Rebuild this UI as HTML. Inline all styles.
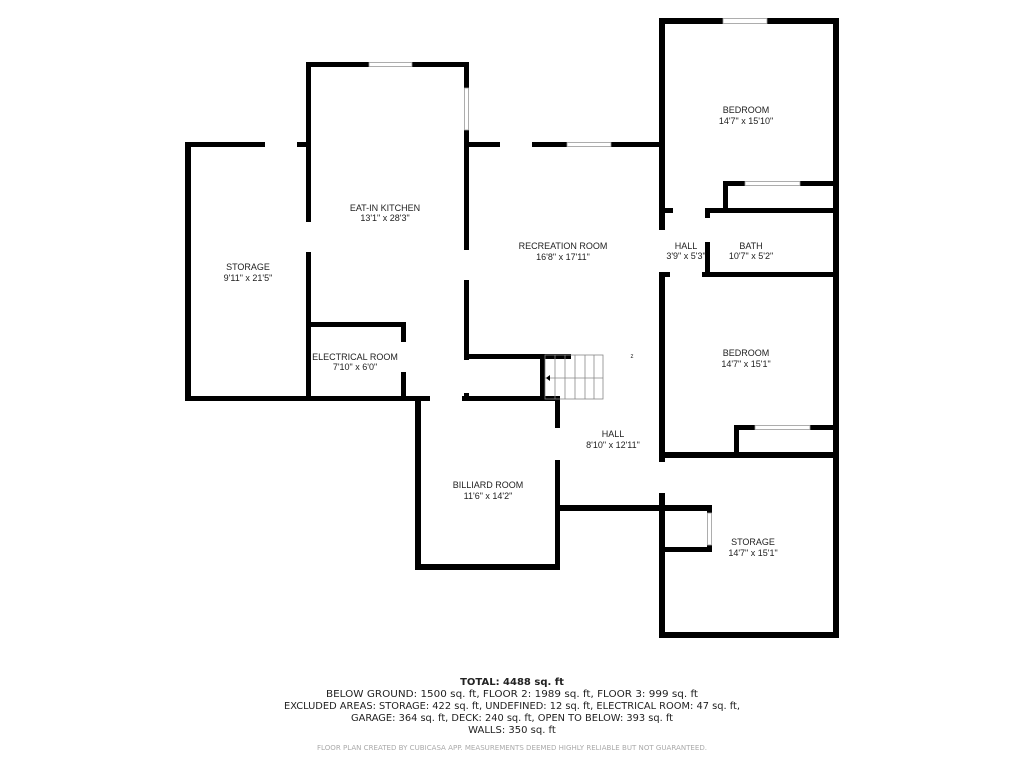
<!DOCTYPE html>
<html><head><meta charset="utf-8"><style>
body{margin:0;background:#fff;}
svg{display:block;}
text{font-family:"DejaVu Sans","Liberation Sans",sans-serif;fill:#222;}
.l{font-size:9px;text-anchor:middle;font-family:"Liberation Sans",sans-serif;}
.t{font-size:10px;text-anchor:middle;}
</style></head><body>
<svg width="1024" height="768" viewBox="0 0 1024 768" xmlns="http://www.w3.org/2000/svg">
<g fill="#000">
<rect x="185" y="142" width="6" height="259"/>
<rect x="185" y="142" width="80" height="5"/>
<rect x="297" y="142" width="14" height="5"/>
<rect x="185" y="396" width="245" height="5"/>
<rect x="306" y="62" width="5" height="160"/>
<rect x="306" y="252" width="5" height="149"/>
<rect x="306" y="62" width="63" height="5"/>
<rect x="412" y="62" width="57" height="5"/>
<rect x="464" y="62" width="5" height="26"/>
<rect x="464" y="130" width="5" height="120"/>
<rect x="464" y="280" width="5" height="80"/>
<rect x="464" y="393" width="5" height="8"/>
<rect x="306" y="322" width="100" height="5"/>
<rect x="401" y="322" width="5" height="20"/>
<rect x="401" y="372" width="5" height="29"/>
<rect x="462" y="396" width="98" height="5"/>
<rect x="464" y="142" width="36" height="5"/>
<rect x="532" y="142" width="35" height="5"/>
<rect x="611" y="142" width="51" height="5"/>
<rect x="464" y="354" width="107" height="5"/>
<rect x="540" y="354" width="5" height="46"/>
<rect x="415" y="396" width="6" height="174"/>
<rect x="415" y="564" width="145" height="6"/>
<rect x="555" y="396" width="5" height="32"/>
<rect x="555" y="460" width="5" height="110"/>
<rect x="555" y="505" width="107" height="6"/>
<rect x="659" y="18" width="6" height="212"/>
<rect x="659" y="272" width="6" height="190"/>
<rect x="659" y="493" width="6" height="145"/>
<rect x="833" y="18" width="6" height="620"/>
<rect x="659" y="18" width="64" height="6"/>
<rect x="767" y="18" width="72" height="6"/>
<rect x="723" y="181" width="22" height="5"/>
<rect x="800" y="181" width="39" height="5"/>
<rect x="723" y="181" width="5" height="31"/>
<rect x="659" y="208" width="14" height="5"/>
<rect x="705" y="208" width="134" height="5"/>
<rect x="705" y="208" width="5" height="10"/>
<rect x="705" y="242" width="5" height="35"/>
<rect x="659" y="272" width="11" height="5"/>
<rect x="702" y="272" width="137" height="5"/>
<rect x="734" y="425" width="21" height="5"/>
<rect x="810" y="425" width="29" height="5"/>
<rect x="734" y="425" width="5" height="32"/>
<rect x="659" y="452" width="180" height="6"/>
<rect x="659" y="505" width="53" height="6"/>
<rect x="707" y="505" width="5" height="8"/>
<rect x="707" y="545" width="5" height="7"/>
<rect x="659" y="547" width="53" height="5"/>
<rect x="659" y="632" width="180" height="6"/>
</g>
<g fill="#fff" stroke="#999" stroke-width="0.8">
<rect x="369" y="62.5" width="43" height="4"/>
<rect x="464.5" y="88" width="4" height="42"/>
<rect x="567" y="142.5" width="44" height="4"/>
<rect x="723" y="18.5" width="44" height="5"/>
<rect x="745" y="181.5" width="55" height="4"/>
<rect x="755" y="425.5" width="55" height="4"/>
<rect x="707.5" y="513" width="4" height="32"/>
</g>
<g stroke="#888" stroke-width="0.8" fill="none">
<rect x="545" y="355" width="58" height="44"/>
<line x1="555" y1="355" x2="555" y2="399"/><line x1="565" y1="355" x2="565" y2="399"/>
<line x1="575" y1="355" x2="575" y2="399"/><line x1="585" y1="355" x2="585" y2="399"/>
<line x1="594" y1="355" x2="594" y2="399"/><line x1="545" y1="378" x2="603" y2="378"/>
</g>
<polygon points="546,378 550,375 550,381" fill="#000"/>
<text x="632" y="358" class="l" style="font-size:6px">z</text>
<text x="248" y="270" class="l">STORAGE</text><text x="248" y="281" class="l">9'11" x 21'5"</text>
<text x="385" y="211" class="l">EAT-IN KITCHEN</text><text x="385" y="221" class="l">13'1" x 28'3"</text>
<text x="563" y="249" class="l">RECREATION ROOM</text><text x="563" y="260" class="l">16'8" x 17'11"</text>
<text x="355" y="360" class="l">ELECTRICAL ROOM</text><text x="355" y="370" class="l">7'10" x 6'0"</text>
<text x="613" y="437" class="l">HALL</text><text x="613" y="448" class="l">8'10" x 12'11"</text>
<text x="488" y="488" class="l">BILLIARD ROOM</text><text x="488" y="499" class="l">11'6" x 14'2"</text>
<text x="746" y="113" class="l">BEDROOM</text><text x="746" y="124" class="l">14'7" x 15'10"</text>
<text x="686" y="249" class="l">HALL</text><text x="686" y="259" class="l">3'9" x 5'3"</text>
<text x="751" y="249" class="l">BATH</text><text x="751" y="259" class="l">10'7" x 5'2"</text>
<text x="746" y="356" class="l">BEDROOM</text><text x="746" y="367" class="l">14'7" x 15'1"</text>
<text x="753" y="545" class="l">STORAGE</text><text x="753" y="556" class="l">14'7" x 15'1"</text>
<text x="512" y="685" class="t" style="font-weight:bold">TOTAL: 4488 sq. ft</text>
<text x="512" y="697" class="t" textLength="372" lengthAdjust="spacingAndGlyphs">BELOW GROUND: 1500 sq. ft, FLOOR 2: 1989 sq. ft, FLOOR 3: 999 sq. ft</text>
<text x="512" y="709" class="t" textLength="456" lengthAdjust="spacingAndGlyphs">EXCLUDED AREAS: STORAGE: 422 sq. ft, UNDEFINED: 12 sq. ft, ELECTRICAL ROOM: 47 sq. ft,</text>
<text x="512" y="721" class="t" textLength="322" lengthAdjust="spacingAndGlyphs">GARAGE: 364 sq. ft, DECK: 240 sq. ft, OPEN TO BELOW: 393 sq. ft</text>
<text x="512" y="733" class="t">WALLS: 350 sq. ft</text>
<text x="512" y="750" class="t" style="font-size:7px;fill:#aaa" textLength="390" lengthAdjust="spacingAndGlyphs">FLOOR PLAN CREATED BY CUBICASA APP. MEASUREMENTS DEEMED HIGHLY RELIABLE BUT NOT GUARANTEED.</text>
</svg>
</body></html>
